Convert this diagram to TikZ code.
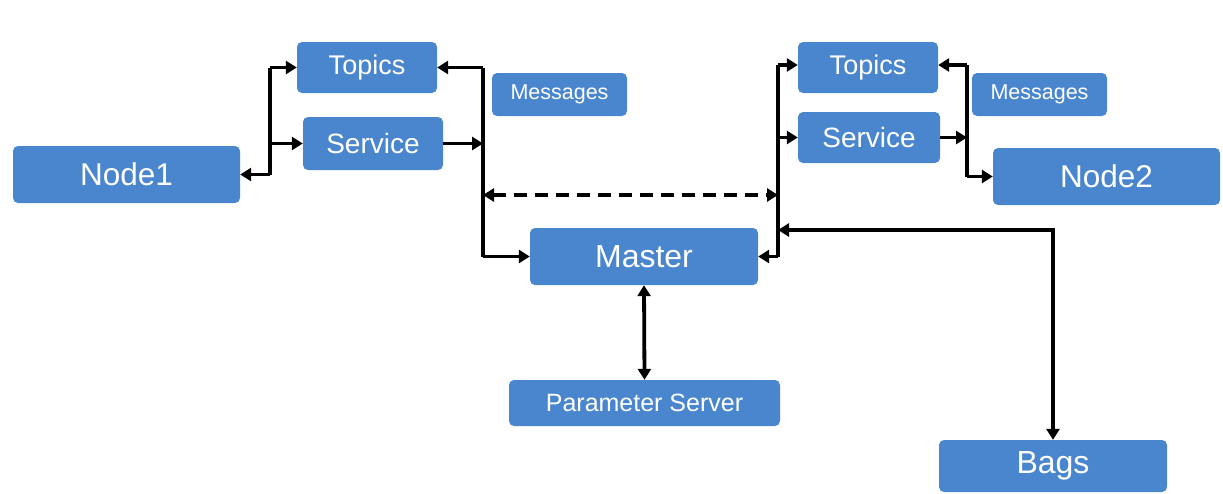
\documentclass[tikz,border=0pt]{standalone}
\usepackage{fontspec}
\setmainfont{Liberation Sans}
\usetikzlibrary{arrows.meta}
\definecolor{boxblue}{RGB}{74,134,206}
\tikzset{
  box/.style={rectangle, rounded corners=5pt, fill=boxblue, text=white, inner sep=0pt},
  bus/.style={line width=3.8pt, black},
  arr/.style={line width=3.8pt, black, -{Triangle[length=11pt,width=13pt]}},
  darr/.style={line width=3.8pt, black, {Triangle[length=11pt,width=13pt]}-{Triangle[length=11pt,width=13pt]}},
  dashline/.style={darr, dash pattern=on 13pt off 8pt}
}
\begin{document}
\begin{tikzpicture}[x=1pt,y=-1pt]
\useasboundingbox (0,0) rectangle (1223,493);

% boxes
\node[box, minimum width=227pt, minimum height=57pt, font=\fontsize{31.5}{31.5}\selectfont] (n1) at (126.5,174.5) {Node1};
\node[box, minimum width=140pt, minimum height=51pt, font=\fontsize{27}{27}\selectfont] (t1) at (367,67.5) {Topics};
\node[box, minimum width=140pt, minimum height=53pt, font=\fontsize{28}{28}\selectfont] (s1) at (373,143.5) {Service};
\node[box, minimum width=135pt, minimum height=43pt, font=\fontsize{21.5}{21.5}\selectfont] (msg1) at (559.5,94.5) {Messages};
\node[box, minimum width=228pt, minimum height=57pt, font=\fontsize{32}{32}\selectfont] (m) at (644,256.5) {Master};
\node[box, minimum width=271pt, minimum height=46pt, font=\fontsize{25}{25}\selectfont] (p) at (644.5,403) {Parameter Server};
\node[box, minimum width=140pt, minimum height=51pt, font=\fontsize{27}{27}\selectfont] (t2) at (868,67.5) {Topics};
\node[box, minimum width=142pt, minimum height=51pt, font=\fontsize{28}{28}\selectfont] (s2) at (869,137.5) {Service};
\node[box, minimum width=135pt, minimum height=43pt, font=\fontsize{21.5}{21.5}\selectfont] (msg2) at (1039.5,94.5) {Messages};
\node[box, minimum width=227pt, minimum height=57pt, font=\fontsize{31.5}{31.5}\selectfont] (n2) at (1106.5,176.5) {Node2};
\node[box, minimum width=228pt, minimum height=52pt, font=\fontsize{32}{32}\selectfont] (bags) at (1053,466) {Bags};

% bus coordinates
\coordinate (b1t) at (270,67.5);
\coordinate (b1b) at (270,174.5);
\coordinate (b2t) at (483,67.5);
\coordinate (b2b) at (483,256.5);
\coordinate (b3t) at (778,65);
\coordinate (b3b) at (778,256.5);
\coordinate (b4t) at (967,65);
\coordinate (b4b) at (967,176.5);
\coordinate (bagtap) at (778,230);

% Node1 side
\draw[bus] (b1t) -- (b1b);
\draw[arr] (b1t) -- (t1.west);
\draw[arr] (b1t|-s1) -- (s1.west);
\draw[arr] (b1b) -- (n1.east);

% left bus to Master
\draw[bus] (b2t) -- (b2b);
\draw[arr] (b2t) -- (t1.east);
\draw[arr] (s1.east) -- (b2t|-s1);
\draw[arr] (b2b) -- (m.west);

% dashed link between the buses
\coordinate (dl) at (483,195);
\coordinate (dr) at (778,195);
\draw[dashline] (dl) -- (dr);

% right bus to Master
\draw[bus] (b3t) -- (b3b);
\draw[arr] (b3t) -- (b3t-|t2.west);
\draw[arr] (b3t|-s2) -- (s2.west);
\draw[arr] (b3b) -- (m.east);

% Bags link
\draw[darr] (bagtap) -| (bags.north);

% Node2 side
\draw[bus] (b4t) -- (b4b);
\draw[arr] (b4t) -- (b4t-|t2.east);
\draw[arr] (s2.east) -- (b4t|-s2);
\draw[arr] (b4b) -- (n2.west);

% Master to Parameter Server
\draw[darr] (m.south) -- (p.north);
\end{tikzpicture}
\end{document}
